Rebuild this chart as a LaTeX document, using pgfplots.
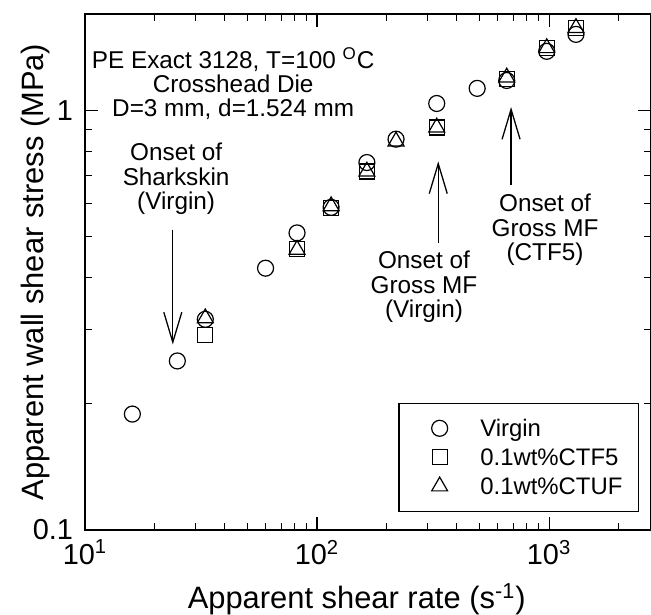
\documentclass[border=0pt]{standalone}
\usepackage{fontspec}
\setmainfont{Liberation Sans}
\usepackage{pgfplots}
\pgfplotsset{compat=1.18}
\usetikzlibrary{arrows.meta}
\begin{document}
\begin{tikzpicture}
\begin{axis}[
  xmode=log, ymode=log,
  scale only axis,
  width=283bp, height=258bp,
  xmin=10, xmax=2750, ymin=0.1, ymax=1.7,
  xtick={10,100,1000},
  xticklabels={10\textsuperscript{1},10\textsuperscript{2},10\textsuperscript{3}},
  ytick={0.1,1},
  yticklabels={0.1,1},
  minor xtick={20,30,40,50,60,70,80,90,200,300,400,500,600,700,800,900,2000},
  minor ytick={0.2,0.3,0.4,0.5,0.6,0.7,0.8,0.9},
  tick align=inside,
  major tick length=6.5bp, minor tick length=3.5bp,
  axis line style={line width=0.65bp},
  every tick/.style={black, line width=0.55bp},
  tick label style={font=\fontsize{14.5}{16}\selectfont},
  xticklabel style={yshift=-1.5bp},
  yticklabel style={xshift=-2.5bp},
  xlabel={Apparent shear rate (s\textsuperscript{-1})},
  ylabel={Apparent wall shear stress (MPa)},
  xlabel style={font=\fontsize{15.5}{18}\selectfont, at={(axis description cs:0.48,-0.153)}, anchor=base},
  ylabel style={font=\fontsize{15.5}{18}\selectfont, at={(axis description cs:-0.0742,0.5)}, anchor=base},
  legend style={at={(axis description cs:0.979,0.035)}, anchor=south east, draw=black, line width=0.65bp,
    inner xsep=8bp, inner ysep=5.25bp, row sep=0bp,
    font=\fontsize{12}{14}\selectfont,
    nodes={inner sep=0bp, text height=11.5bp, text depth=3bp}},
  legend cell align=left,
  legend image code/.code={\path (0bp,0bp) (32bp,0bp); \draw[mark repeat=2,mark phase=2] plot coordinates {(0bp,0bp) (12bp,0bp) (24bp,0bp)};},
]
\coordinate (SW) at (rel axis cs:0,0);
\coordinate (NE) at (rel axis cs:1,1);
\addplot[only marks, mark=o, mark size=4bp, mark options={line width=0.6bp, black}] coordinates {
(16,0.189) (25,0.253) (33,0.318) (60,0.421) (82,0.511) (115,0.588) (164,0.752) (219,0.855) (328,1.04) (490,1.13) (657,1.18) (977,1.385) (1306,1.52)};
\addlegendentry{Virgin}
\addplot[only marks, mark=square, mark size=3.75bp, mark options={line width=0.6bp, black}] coordinates {
(33,0.292) (82,0.468) (115,0.585) (164,0.716) (328,0.912) (657,1.19) (977,1.41) (1306,1.573)};
\addlegendentry{0.1wt\%CTF5}
\addplot[only marks, mark=triangle, mark size=4.6bp, mark options={line width=0.6bp, black}] coordinates {
(33,0.32) (82,0.466) (115,0.592) (164,0.716) (219,0.845) (328,0.912) (657,1.2) (977,1.41) (1306,1.575)};
\addlegendentry{0.1wt\%CTUF}
\node[align=center, font=\fontsize{12.2}{12.2}\selectfont] at (axis cs:43.5,1.16) {PE Exact 3128, T=100 \textsuperscript{O}C\\Crosshead Die\\D=3 mm, d=1.524 mm};
\node[align=center, font=\fontsize{12.2}{12.2}\selectfont] at (axis cs:24.7,0.688) {Onset of\\Sharkskin\\(Virgin)};
\node[align=center, font=\fontsize{12.2}{12.4}\selectfont] at (axis cs:289,0.38) {Onset of\\Gross MF\\(Virgin)};
\node[align=center, font=\fontsize{12.2}{12.4}\selectfont] at (axis cs:961,0.52) {Onset of\\Gross MF\\(CTF5)};
\draw[line width=0.65bp, -{Straight Barb[length=15bp,width=9bp]}] (axis cs:23.9,0.52) -- (axis cs:23.9,0.277);
\draw[line width=0.65bp, -{Straight Barb[length=15bp,width=9bp]}] (axis cs:333,0.484) -- (axis cs:333,0.757);
\draw[line width=0.65bp, -{Straight Barb[length=15bp,width=9bp]}] (axis cs:686,0.666) -- (axis cs:686,1.02);
\end{axis}
\pgfresetboundingbox
\path[use as bounding box] ([shift={(-42.5bp,-42.5bp)}]SW) rectangle ([shift={(0bp,7bp)}]NE);
\end{tikzpicture}
\end{document}
